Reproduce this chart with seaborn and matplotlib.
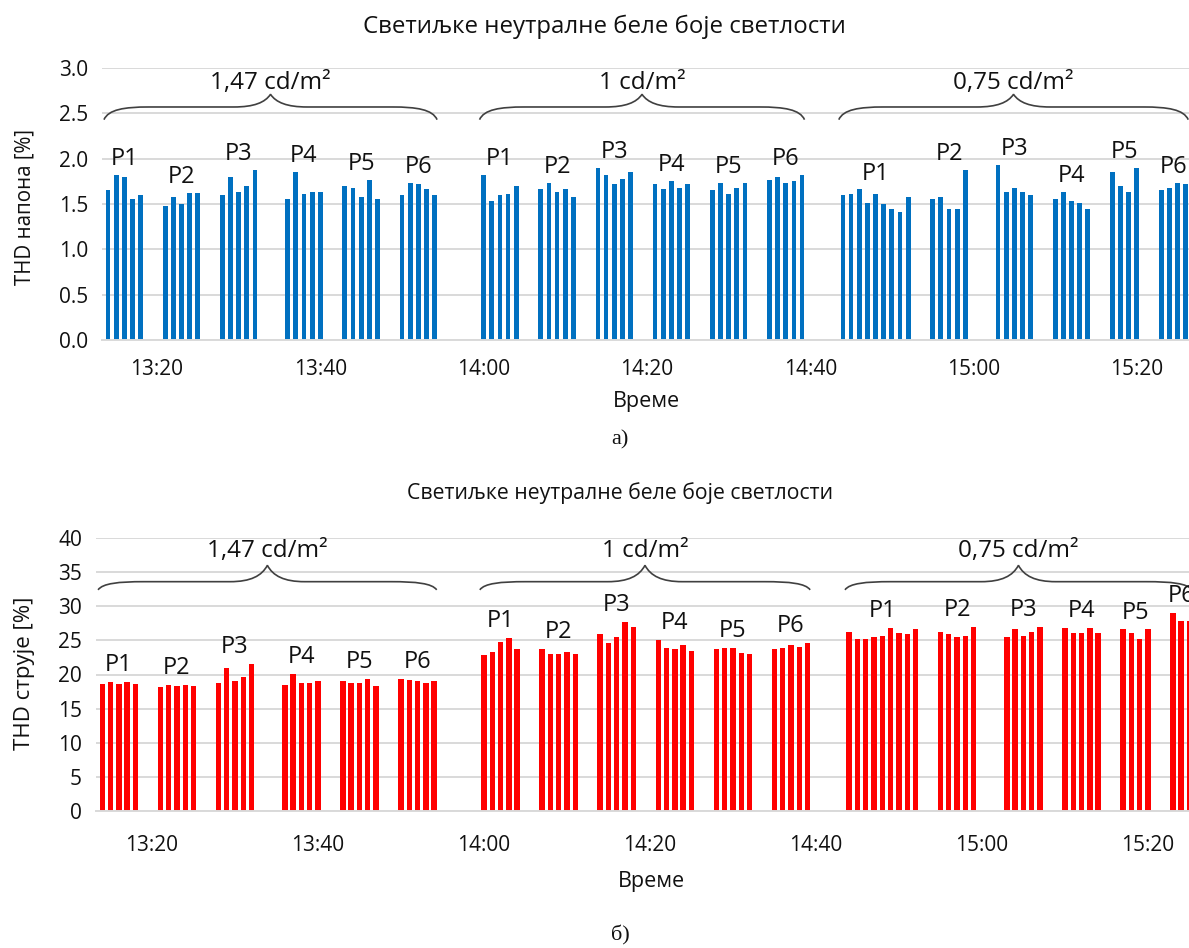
import numpy as np
import pandas as pd
import seaborn as sns
import matplotlib.pyplot as plt
from matplotlib.path import Path
from matplotlib.patches import PathPatch

groups = ["P1", "P2", "P3", "P4", "P5", "P6"]
levels = ["1,47 cd/m²", "1 cd/m²", "0,75 cd/m²"]

# time of the first reading of every P group, one reading per minute after that
starts = [
    ["13:14", "13:21", "13:28", "13:36", "13:43", "13:50"],
    ["14:00", "14:07", "14:14", "14:21", "14:28", "14:35"],
    ["14:44", "14:55", "15:03", "15:10", "15:17", "15:23"],
]

# THD of voltage [%]
thd_u = [
    [[1.65, 1.82, 1.80, 1.56, 1.60],
     [1.48, 1.58, 1.50, 1.62, 1.62],
     [1.60, 1.80, 1.63, 1.70, 1.88],
     [1.55, 1.85, 1.61, 1.63, 1.63],
     [1.70, 1.68, 1.58, 1.76, 1.56],
     [1.60, 1.73, 1.72, 1.66, 1.60]],
    [[1.82, 1.53, 1.60, 1.61, 1.70],
     [1.66, 1.73, 1.63, 1.66, 1.58],
     [1.90, 1.82, 1.72, 1.78, 1.85],
     [1.72, 1.66, 1.75, 1.68, 1.72],
     [1.65, 1.73, 1.61, 1.68, 1.73],
     [1.76, 1.80, 1.73, 1.75, 1.82]],
    [[1.60, 1.61, 1.66, 1.51, 1.61, 1.50, 1.45, 1.41, 1.58],
     [1.55, 1.58, 1.45, 1.45, 1.88],
     [1.93, 1.63, 1.68, 1.63, 1.60],
     [1.56, 1.63, 1.53, 1.51, 1.45],
     [1.85, 1.70, 1.63, 1.90],
     [1.65, 1.68, 1.73, 1.72]],
]

# THD of current [%]
thd_i = [
    [[18.6, 18.9, 18.6, 18.9, 18.6],
     [18.1, 18.5, 18.3, 18.5, 18.3],
     [18.8, 21.0, 19.0, 19.6, 21.5],
     [18.5, 20.1, 18.8, 18.8, 19.0],
     [19.0, 18.8, 18.8, 19.4, 18.3],
     [19.4, 19.2, 19.0, 18.8, 19.0]],
    [[22.8, 23.3, 24.8, 25.3, 23.7],
     [23.7, 23.0, 23.0, 23.3, 23.0],
     [25.9, 24.6, 25.5, 27.7, 27.0],
     [25.0, 23.9, 23.7, 24.3, 23.5],
     [23.7, 23.9, 23.9, 23.2, 23.0],
     [23.7, 23.9, 24.3, 24.1, 24.6]],
    [[26.3, 25.2, 25.2, 25.5, 25.7, 26.8, 26.1, 25.9, 26.6],
     [26.3, 25.9, 25.5, 25.7, 27.0],
     [25.5, 26.6, 25.7, 26.3, 27.0],
     [26.8, 26.1, 26.1, 26.8, 26.1],
     [26.6, 26.1, 25.2, 26.6],
     [29.0, 27.9, 27.9]],
]

tick_times = ["13:20", "13:40", "14:00", "14:20", "14:40", "15:00", "15:20"]

FONT = ["Open Sans", "DejaVu Sans"]
GRID = "#D9D9D9"
INK = "#111111"


def minute_of(t):
    h, m = map(int, t.split(":"))
    return (h - 13) * 60 + m


def build_frame(values):
    rows = []
    for b, (block_starts, block_vals) in enumerate(zip(starts, values)):
        for g, (t0, vals) in enumerate(zip(block_starts, block_vals)):
            for k, v in enumerate(vals):
                rows.append({"block": b, "group": groups[g],
                             "minute": minute_of(t0) + k, "thd": v})
    return pd.DataFrame(rows)


def brace(ax, x0, x1, xm, ye, yf, yt, a=5.5, b=4.5):
    verts = [(x0, ye),
             (x0 + 0.1 * a, ye + 0.8 * (yf - ye)), (x0 + 0.45 * a, yf), (x0 + a, yf),
             (xm - b, yf),
             (xm - 0.45 * b, yf), (xm - 0.15 * b, yf + 0.35 * (yt - yf)), (xm, yt),
             (xm + 0.15 * b, yf + 0.35 * (yt - yf)), (xm + 0.45 * b, yf), (xm + b, yf),
             (x1 - a, yf),
             (x1 - 0.45 * a, yf), (x1 - 0.1 * a, ye + 0.8 * (yf - ye)), (x1, ye)]
    codes = ([Path.MOVETO] + [Path.CURVE4] * 3 + [Path.LINETO] + [Path.CURVE4] * 6
             + [Path.LINETO] + [Path.CURVE4] * 3)
    ax.add_patch(PathPatch(Path(verts, codes), facecolor="none", edgecolor="#404040",
                           lw=1.2, clip_on=False))


def draw_panel(ax, df, color, width, xlim, ylim, yticks, yfmt, label_off, brace_y, xpad):
    sns.barplot(data=df, x="minute", y="thd", native_scale=True, width=width,
                color=color, saturation=1, errorbar=None, linewidth=0, ax=ax)
    ax.set_xlim(*xlim)
    ax.set_ylim(*ylim)
    ax.set_yticks(yticks)
    ax.set_yticklabels([yfmt.format(v) for v in yticks], fontsize=15, family=FONT, color=INK)
    ticks = [minute_of(t) for t in tick_times]
    ax.set_xticks(ticks)
    ax.set_xticklabels(tick_times, fontsize=15, family=FONT, color=INK)
    ax.tick_params(length=0, pad=xpad, axis="x")
    ax.tick_params(length=0, pad=10, axis="y")
    ax.set_xlabel("")
    ax.set_ylabel("")
    ax.yaxis.grid(True, color=GRID, lw=1.4)
    ax.set_axisbelow(True)
    for s in ["top", "right", "left"]:
        ax.spines[s].set_visible(False)
    ax.spines["bottom"].set_color(GRID)
    ax.spines["bottom"].set_linewidth(1.4)

    # P labels over every group
    for (b, g), sub in df.groupby(["block", "group"]):
        ax.text(sub["minute"].mean(), sub["thd"].max() + label_off, g,
                ha="center", va="baseline", fontsize=17, family=FONT, color=INK)

    # braces with luminance level over every block
    ye, yf, yt, yl = brace_y
    for b, sub in df.groupby("block"):
        x0 = sub["minute"].min() - 0.5
        x1 = sub["minute"].max() + 0.3
        xm = (x0 + x1) / 2
        brace(ax, x0, x1, xm, ye, yf, yt)
        ax.text(xm, yl, levels[b], ha="center", va="baseline", fontsize=17.5,
                family=FONT, color=INK)


sns.set_style("white")
plt.rcParams["font.family"] = FONT

fig = plt.figure(figsize=(11.89, 9.48), dpi=100)
W, H = 1189, 948

ax1 = fig.add_axes([102 / W, 1 - 340 / H, 1090 / W, 272 / H])
draw_panel(ax1, build_frame(thd_u), "#0070C0", 0.58, (13.26, 146.76), (0, 3.0),
           np.arange(0, 3.01, 0.5), "{:.1f}", 0.11, (2.43, 2.57, 2.71, 2.77), 14)

ax2 = fig.add_axes([96 / W, 1 - 811 / H, 1110 / W, 273 / H])
draw_panel(ax2, build_frame(thd_i), "#FF0000", 0.65, (13.25, 147.0), (0, 40),
           np.arange(0, 41, 5), "{:.0f}", 1.6, (32.4, 33.6, 36.0, 37.2), 17)

title = "Светиљке неутралне беле боје светлости"
fig.text(604 / W, 1 - 27 / H, title, ha="center", va="center", fontsize=17.3, color=INK)
fig.text(620 / W, 1 - 493 / H, title, ha="center", va="center", fontsize=15.3, color=INK)
fig.text(25 / W, 1 - 207 / H, "THD напона [%]", rotation=90, ha="center", va="center",
         fontsize=14.8, color=INK)
fig.text(25 / W, 1 - 673 / H, "THD струје [%]", rotation=90, ha="center", va="center",
         fontsize=16, color=INK)
fig.text(646 / W, 1 - 401 / H, "Време", ha="center", va="center", fontsize=15.5, color=INK)
fig.text(651 / W, 1 - 882 / H, "Време", ha="center", va="center", fontsize=15.5, color=INK)
fig.text(620 / W, 1 - 440 / H, "а)", ha="center", va="center", fontsize=16,
         family=["Liberation Serif", "DejaVu Serif"], color=INK)
fig.text(620 / W, 1 - 935 / H, "б)", ha="center", va="center", fontsize=16,
         family=["Liberation Serif", "DejaVu Serif"], color=INK)

fig.savefig("out.png", dpi=100)
